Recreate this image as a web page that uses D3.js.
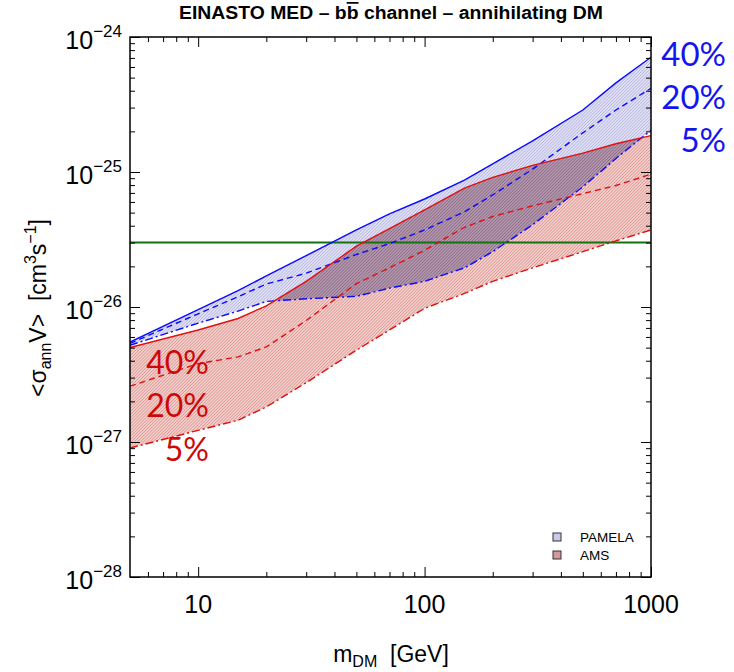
<!DOCTYPE html>
<html>
<head>
<meta charset="utf-8">
<script src="https://cdn.jsdelivr.net/npm/d3@7"></script>
<style>
  html, body { margin: 0; padding: 0; background: #fff; }
  svg { display: block; }
  text { font-family: "Liberation Sans", Arial, Helvetica, sans-serif; }
</style>
</head>
<body>
<svg id="chart" width="734" height="672"></svg>
<script>
// ---------------- data ----------------
const masses   = [5, 10, 15, 20, 30, 50, 70, 100, 150, 200, 300, 500, 700, 1000];
// PAMELA (blue): 40% solid, 20% dashed, 5% dash-dot
const pamela40 = [5.50e-27, 9.55e-27, 1.32e-26, 1.70e-26, 2.40e-26, 3.72e-26, 4.90e-26, 6.31e-26, 8.71e-26, 1.15e-25, 1.70e-25, 2.88e-25, 4.57e-25, 7.08e-25];
const pamela20 = [5.37e-27, 8.91e-27, 1.19e-26, 1.48e-26, 1.78e-26, 2.45e-26, 2.95e-26, 3.72e-26, 5.07e-26, 6.76e-26, 1.05e-25, 1.95e-25, 2.88e-25, 4.17e-25];
const pamela5  = [5.21e-27, 7.59e-27, 9.33e-27, 1.10e-26, 1.15e-26, 1.20e-26, 1.38e-26, 1.55e-26, 1.95e-26, 2.57e-26, 4.07e-26, 7.76e-26, 1.26e-25, 2.04e-25];
// AMS (red): 40% solid, 20% dashed, 5% dash-dot
const ams40    = [5.01e-27, 6.76e-27, 8.22e-27, 1.02e-26, 1.55e-26, 2.82e-26, 3.80e-26, 5.25e-26, 7.59e-26, 9.12e-26, 1.12e-25, 1.38e-25, 1.62e-25, 1.86e-25];
const ams20    = [2.59e-27, 3.81e-27, 4.27e-27, 5.06e-27, 7.94e-27, 1.49e-26, 1.95e-26, 2.63e-26, 3.89e-26, 4.68e-26, 5.62e-26, 6.92e-26, 7.94e-26, 9.64e-26];
const ams5     = [9.03e-28, 1.22e-27, 1.45e-27, 1.82e-27, 2.75e-27, 4.79e-27, 6.76e-27, 9.77e-27, 1.26e-26, 1.55e-26, 1.95e-26, 2.57e-26, 3.09e-26, 3.72e-26];
const thermalXS = 3e-26;

const xMajorTicks  = [10, 100, 1000];
const xTickLabels  = ["10", "100", "1000"];
const yMajorTicks  = [1e-28, 1e-27, 1e-26, 1e-25, 1e-24];
const yTickExps    = ["\u221228", "\u221227", "\u221226", "\u221225", "\u221224"];
const percentLabels = ["40%", "20%", "5%"];
const legendNames  = ["PAMELA", "AMS"];

// ---------------- layout ----------------
const L = 130, R = 651, T = 37, B = 577;
const svg = d3.select("#chart");
const x = d3.scaleLog().domain([5, 1000]).range([L, R]);
const y = d3.scaleLog().domain([1e-28, 1e-24]).range([B, T]);

const defs = svg.append("defs");
function hatch(id, bg, stroke, sw, gap) {
  const p = defs.append("pattern").attr("id", id).attr("patternUnits", "userSpaceOnUse")
    .attr("width", gap).attr("height", gap).attr("patternTransform", "rotate(45)");
  if (bg) p.append("rect").attr("width", gap).attr("height", gap).attr("fill", bg);
  p.append("line").attr("x1", 0).attr("y1", 0).attr("x2", 0).attr("y2", gap)
    .attr("stroke", stroke).attr("stroke-width", sw);
}
hatch("hPam", "#e2e2f4", "#8080cc", 0.7, 2.2);
hatch("hAms", "#f2d0cc", "#cc6060", 0.8, 2.2);
hatch("hOv", "#b498ae", "#6e4a68", 0.9, 2.2);

defs.append("clipPath").attr("id", "plotClip").append("rect")
  .attr("x", L).attr("y", T).attr("width", R - L).attr("height", B - T);

const rows = masses.map((m, i) => ({m, p40: pamela40[i], p20: pamela20[i], p5: pamela5[i],
  a40: ams40[i], a20: ams20[i], a5: ams5[i]}));

const pamArea = d3.area().x(d => x(d.m)).y0(d => y(d.p5)).y1(d => y(d.p40));
const amsArea = d3.area().x(d => x(d.m)).y0(d => y(d.a5)).y1(d => y(d.a40));

defs.append("clipPath").attr("id", "amsClip").append("path").attr("d", amsArea(rows));

const g = svg.append("g").attr("clip-path", "url(#plotClip)");
g.append("path").attr("d", pamArea(rows)).attr("fill", "url(#hPam)");
g.append("path").attr("d", amsArea(rows)).attr("fill", "url(#hAms)");
g.append("g").attr("clip-path", "url(#amsClip)")
  .append("path").attr("d", pamArea(rows)).attr("fill", "url(#hOv)");

// thermal line
g.append("line").attr("x1", L).attr("x2", R).attr("y1", y(thermalXS)).attr("y2", y(thermalXS))
  .attr("stroke", "#137313").attr("stroke-width", 2);

const series = [
  {k: "p40", c: "#0a0aff", dash: null},
  {k: "p20", c: "#0a0aff", dash: "6,4"},
  {k: "p5",  c: "#0a0aff", dash: "8,3,2,3"},
  {k: "a40", c: "#e01010", dash: null},
  {k: "a20", c: "#e01010", dash: "6,4"},
  {k: "a5",  c: "#e01010", dash: "8,3,2,3"}
];
series.forEach(s => {
  g.append("path").attr("d", d3.line().x(d => x(d.m)).y(d => y(d[s.k]))(rows))
    .attr("fill", "none").attr("stroke", s.c).attr("stroke-width", 1.4)
    .attr("stroke-dasharray", s.dash);
});

// ---------------- axes ----------------
function minorsLog(lo, hi) {
  const out = [];
  for (let e = Math.floor(Math.log10(lo)); e <= Math.ceil(Math.log10(hi)); e++) {
    for (let k = 2; k <= 9; k++) { const v = k * Math.pow(10, e); if (v > lo * 1.0001 && v < hi * 0.9999) out.push(v); }
  }
  return out;
}
const xMinor = minorsLog(5, 1000).filter(v => xMajorTicks.indexOf(v) < 0);
const yMinor = minorsLog(1e-28, 1e-24);

function addAxis(axisFn, scale, vals, size, tr) {
  const a = svg.append("g").attr("transform", tr)
    .call(axisFn(scale).tickValues(vals).tickSize(-size).tickFormat(""));
  a.select(".domain").remove();
  a.selectAll(".tick line").attr("stroke", "#000").attr("stroke-width", 1);
  return a;
}
addAxis(d3.axisBottom, x, xMajorTicks, 10, `translate(0,${B})`);
addAxis(d3.axisBottom, x, xMinor, 5, `translate(0,${B})`);
addAxis(d3.axisTop, x, xMajorTicks, 10, `translate(0,${T})`);
addAxis(d3.axisTop, x, xMinor, 5, `translate(0,${T})`);
addAxis(d3.axisLeft, y, yMajorTicks, 10, `translate(${L},0)`);
addAxis(d3.axisLeft, y, yMinor, 5, `translate(${L},0)`);
addAxis(d3.axisRight, y, yMajorTicks, 10, `translate(${R},0)`);
addAxis(d3.axisRight, y, yMinor, 5, `translate(${R},0)`);

svg.append("rect").attr("x", L).attr("y", T).attr("width", R - L).attr("height", B - T)
  .attr("fill", "none").attr("stroke", "#000").attr("stroke-width", 1.5);

// tick labels
xMajorTicks.forEach((v, i) => {
  svg.append("text").attr("x", x(v)).attr("y", 613).attr("text-anchor", "middle")
    .attr("font-size", 25).attr("fill", "#000").text(xTickLabels[i]);
});
yMajorTicks.forEach((v, i) => {
  const t = svg.append("text").attr("x", 122).attr("y", y(v) + 12).attr("text-anchor", "end")
    .attr("font-size", 25).attr("fill", "#000");
  t.append("tspan").text("10");
  t.append("tspan").attr("dy", -12).attr("font-size", 17).text(yTickExps[i]);
});

// axis titles
const xt = svg.append("text").attr("x", 391).attr("y", 662).attr("text-anchor", "middle")
  .attr("font-size", 23).attr("fill", "#000");
xt.append("tspan").text("m");
xt.append("tspan").attr("dy", 5).attr("font-size", 16).text("DM");
xt.append("tspan").attr("dy", -5).text("\u00a0\u00a0[GeV]");

const yt = svg.append("text").attr("transform", "translate(46,308) rotate(-90)")
  .attr("text-anchor", "middle").attr("font-size", 23).attr("fill", "#000");
yt.append("tspan").text("<\u03c3");
yt.append("tspan").attr("dy", 5).attr("font-size", 16).text("ann");
yt.append("tspan").attr("dy", -5).text("V>\u00a0\u00a0[cm");
yt.append("tspan").attr("dy", -10).attr("font-size", 16).text("3");
yt.append("tspan").attr("dy", 10).text("s");
yt.append("tspan").attr("dy", -10).attr("font-size", 16).text("\u22121");
yt.append("tspan").attr("dy", 10).text("]");

// title
const tt = svg.append("text").attr("x", 391).attr("y", 19).attr("text-anchor", "middle")
  .attr("font-size", 17.5).attr("font-weight", "bold").attr("fill", "#000")
  .attr("textLength", 424).attr("lengthAdjust", "spacingAndGlyphs");
tt.append("tspan").text("EINASTO MED \u2013 b");
tt.append("tspan").style("text-decoration", "overline").text("b");
tt.append("tspan").text(" channel \u2013 annihilating DM");

// legend
const legFill = ["#c9c9ec", "#d39a9a"];
legendNames.forEach((n, i) => {
  svg.append("rect").attr("x", 553).attr("y", 533 + i * 18).attr("width", 8).attr("height", 8)
    .attr("fill", legFill[i]).attr("stroke", "#333").attr("stroke-width", 1);
  svg.append("text").attr("x", 580).attr("y", 542 + i * 18).attr("font-size", 13.5)
    .attr("fill", "#000").text(n);
});

// percent annotations
const blueBase = [66, 109, 152], redBase = [374, 417, 461];
percentLabels.forEach((p, i) => {
  svg.append("text").attr("x", 726).attr("y", blueBase[i]).attr("text-anchor", "end")
    .style("font-family", "Lato, 'Open Sans', sans-serif").attr("font-size", 33)
    .attr("fill", "#1414f0").text(p);
  svg.append("text").attr("x", 209).attr("y", redBase[i]).attr("text-anchor", "end")
    .style("font-family", "Lato, 'Open Sans', sans-serif").attr("font-size", 32)
    .attr("fill", "#cc0808").text(p);
});
</script>
</body>
</html>
